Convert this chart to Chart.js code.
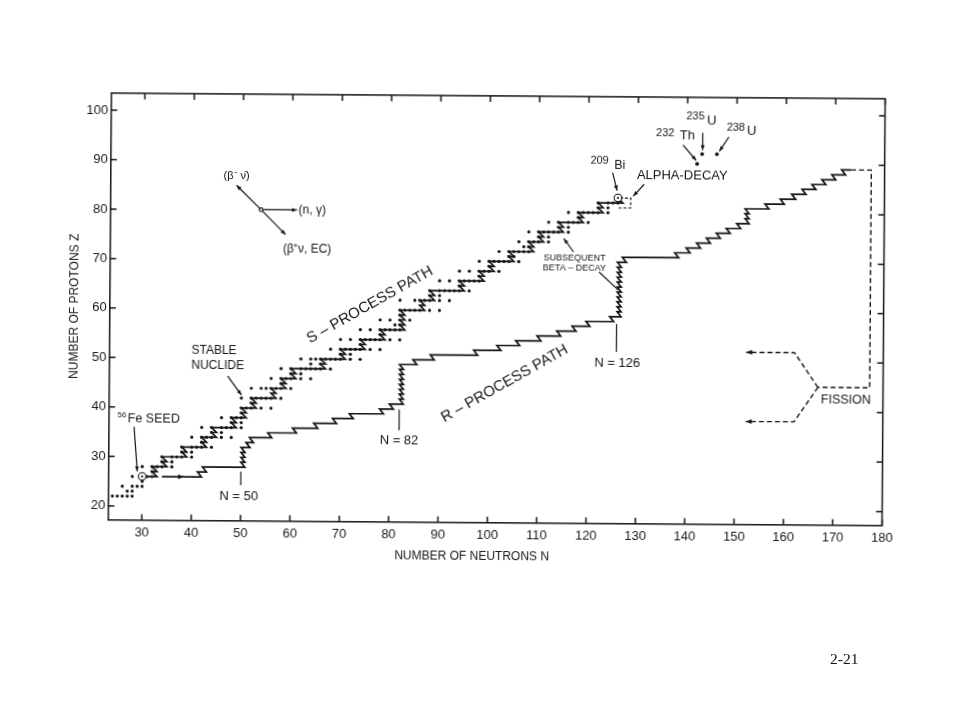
<!DOCTYPE html>
<html>
<head>
<meta charset="utf-8">
<title>s- and r-process paths</title>
<script src="https://cdn.jsdelivr.net/npm/chart.js@4.4.1/dist/chart.umd.min.js"></script>
<style>
html, body { margin: 0; padding: 0; background: #fff; }
/* the scanned figure sits a little crooked on the page */
#wrap { position: absolute; left: 0; top: 0; width: 960px; height: 720px;
        transform: rotate(0.42deg); transform-origin: 496.7px 310px; }
#pageno { position: absolute; left: 830px; top: 651px; font-size: 15.5px; line-height: 15px;
          font-family: "Liberation Serif", "Times New Roman", serif; color: #111; }
</style>
</head>
<body>
<div id="wrap"><canvas id="chart" width="960" height="720"></canvas></div>
<div id="pageno">2-21</div>
<script>
// tick values
var xTicks = [30, 40, 50, 60, 70, 80, 90, 100, 110, 120, 130, 140, 150, 160, 170, 180];
var yTicks = [20, 30, 40, 50, 60, 70, 80, 90, 100];

// stable nuclides: proton number and the neutron numbers of its stable isotopes
var stableZ = [22, 23, 24, 25, 26, 27, 28, 29, 30, 31, 32, 33, 34, 35, 36, 37, 38, 39, 40, 41,
               42, 44, 45, 46, 47, 48, 49, 50, 51, 52, 53, 54, 55, 56, 57, 58, 59, 60, 62, 63,
               64, 65, 66, 67, 68, 69, 70, 71, 72, 73, 74, 75, 76, 77, 78, 79, 80, 81, 82, 83];
var stableN = [
    [24, 25, 26, 27, 28], [27, 28], [26, 28, 29, 30], [30], [28, 30, 31, 32], [32],
    [30, 32, 33, 34, 36], [34, 36], [34, 36, 37, 38, 40], [38, 40], [38, 40, 41, 42, 44], [42],
    [40, 42, 43, 44, 46, 48], [44, 46], [42, 44, 46, 47, 48, 50], [48, 50], [46, 48, 49, 50], [50],
    [50, 51, 52, 54, 56], [52], [50, 52, 53, 54, 55, 56, 58], [52, 54, 55, 56, 57, 58, 60], [58],
    [56, 58, 59, 60, 62, 64], [60, 62], [58, 60, 62, 63, 64, 65, 66, 68], [64, 66],
    [62, 64, 65, 66, 67, 68, 69, 70, 72, 74], [70, 72], [68, 70, 71, 72, 73, 74, 76, 78], [74],
    [70, 72, 74, 75, 76, 77, 78, 80, 82], [78], [74, 76, 78, 79, 80, 81, 82], [81, 82],
    [78, 80, 82, 84], [82], [82, 83, 84, 85, 86, 88, 90], [82, 85, 86, 87, 88, 90, 92], [88, 90],
    [88, 90, 91, 92, 93, 94, 96], [94], [90, 92, 94, 95, 96, 97, 98], [98],
    [94, 96, 98, 99, 100, 102], [100], [98, 100, 101, 102, 103, 104, 106], [104, 105],
    [102, 104, 105, 106, 107, 108], [107, 108], [106, 108, 109, 110, 112], [110, 112],
    [108, 110, 111, 112, 113, 114, 116], [114, 116], [112, 114, 116, 117, 118, 120], [118],
    [116, 118, 119, 120, 121, 122, 124], [122, 124], [122, 124, 125, 126], [126]
];

// s-process path: one row per element, N where the row ends in a beta decay
var sPathZ = [26, 27, 28, 29, 30, 31, 32, 33, 34, 35, 36, 37, 38, 39, 40, 41, 42, 43, 44, 45,
              46, 47, 48, 49, 50, 51, 52, 53, 54, 55, 56, 57, 58, 59, 60, 61, 62, 63, 64, 65,
              66, 67, 68, 69, 70, 71, 72, 73, 74, 75, 76, 77, 78, 79, 80, 81, 82, 83];
var sPathEndN = [33, 33, 35, 35, 39, 39, 43, 43, 45, 45, 49, 49, 51, 51, 53, 53, 57, 57, 59, 59,
                 61, 61, 67, 67, 71, 71, 75, 75, 79, 79, 83, 83, 83, 83, 87, 87, 89, 89, 95, 95,
                 99, 99, 101, 101, 105, 105, 109, 109, 111, 111, 115, 115, 119, 119, 123, 123, 127, 127];
var sPathStartN = 30;

// r-process path: one row per element, N where the row ends
var rPathZ = [26, 27, 28, 29, 30, 31, 32, 33, 34, 35, 36, 37, 38, 39, 40, 41, 42, 43, 44, 45,
              46, 47, 48, 49, 50, 51, 52, 53, 54, 55, 56, 57, 58, 59, 60, 61, 62, 63, 64, 65,
              66, 67, 68, 69, 70, 71, 72, 73, 74, 75, 76, 77, 78, 79, 80, 81, 82, 83, 84, 85,
              86, 87, 88, 89];
var rPathEndN = [42, 43, 50.8, 50.8, 50.8, 50.8, 51.8, 52.5, 56.2, 61.2, 65.5, 69.3, 72.7, 78.8,
                 80.8, 82.8, 82.8, 82.8, 82.8, 82.8, 82.8, 82.8, 82.8, 85.5, 89, 97.8, 102.5,
                 106.3, 110.6, 114.6, 117.7, 120.5, 125.3, 126.8, 126.8, 126.8, 126.8, 126.8,
                 126.8, 126.8, 126.8, 126.8, 126.8, 126.8, 127.8, 138.4, 140.7, 142.8, 144.8,
                 146.8, 148.8, 150.9, 152.6, 152.6, 152.6, 156.6, 159.7, 162, 164.1, 166.1,
                 168.1, 170.1, 172.1, 173.2];
var rPathStartN = 34;

// fission return (dashed)
var fissionMainN = [173.2, 177.3, 177.3, 166.8];
var fissionMainZ = [89, 89, 45, 45];
var fissionUpN = [166.8, 162, 152.2];
var fissionUpZ = [45, 52, 52];
var fissionLowN = [166.8, 162, 152.2];
var fissionLowZ = [45, 38, 38];

// alpha-decay loop at 209Bi (dashed)
var alphaN = [126.4, 128.6, 128.6, 125.8];
var alphaZ = [83, 83, 81, 81];

// circled nuclides (56Fe seed, 209Bi) and the long lived actinides
var circledN = [30, 126];
var circledZ = [26, 83];
var actinideN = [142, 143, 146];
var actinideZ = [90, 92, 92];

var INK = '#151515';
var FONT = '"Liberation Sans", Arial, Helvetica, sans-serif';

function toPoints(ns, zs) {
    return ns.map(function (n, i) { return {x: n, y: zs[i]}; });
}

// staircase: each row runs right, then a beta decay steps up one row and back by `hook`
function stairPath(levelZ, levelEndN, firstN, hook) {
    var pts = [];
    var start = firstN;
    levelZ.forEach(function (z, i) {
        pts.push({x: start, y: z});
        pts.push({x: levelEndN[i], y: z});
        start = levelEndN[i] - hook;
    });
    return pts;
}

var stablePoints = [];
stableZ.forEach(function (z, i) {
    stableN[i].forEach(function (n) { stablePoints.push({x: n, y: z}); });
});

// annotations: text, N, Z, font px, align, angle
var notes = [
    ['(β⁻ ν̄)', 48.7, 86.9, 11, 'center', 0],
    ['(n, γ)', 61.3, 80.1, 12, 'left', 0],
    ['(β⁺ν, EC)', 63.1, 72.1, 12, 'center', 0],
    ['56', 24.9, 38.4, 8, 'left', 0],
    ['Fe SEED', 27.0, 37.7, 12.5, 'left', 0],
    ['STABLE', 39.8, 51.6, 12, 'left', 0],
    ['NUCLIDE', 39.8, 48.6, 12, 'left', 0],
    ['S – PROCESS PATH', 75.9, 61.0, 15, 'center', -29.8],
    ['R – PROCESS PATH', 103.3, 45.3, 15, 'center', -29.8],
    ['N = 50', 49.6, 22.0, 13, 'center', 0],
    ['N = 82', 82.0, 33.7, 13, 'center', 0],
    ['N = 126', 126.1, 49.5, 13, 'center', 0],
    ['SUBSEQUENT', 117.3, 70.7, 9, 'center', 0],
    ['BETA – DECAY', 117.3, 68.7, 9, 'center', 0],
    ['209', 124.1, 90.5, 11, 'right', 0],
    ['Bi', 125.2, 89.6, 12.5, 'left', 0],
    ['ALPHA-DECAY', 139.0, 87.5, 13, 'center', 0],
    ['232', 135.5, 96.2, 11, 'center', 0],
    ['Th', 140.0, 95.6, 13, 'center', 0],
    ['235', 141.6, 99.6, 11, 'center', 0],
    ['U', 144.9, 98.7, 13, 'center', 0],
    ['238', 149.8, 97.4, 11, 'center', 0],
    ['U', 153.0, 96.6, 13, 'center', 0],
    ['FISSION', 172.5, 42.4, 12.5, 'center', 0]
];

// pointer lines: from N, Z to N, Z, arrow head at the end
var pointers = [
    [53.7, 80.1, 61.0, 80.1, true],
    [53.7, 80.1, 48.7, 85.0, true],
    [53.7, 80.1, 58.7, 75.1, true],
    [28.3, 36.0, 29.0, 27.0, true],
    [47.2, 46.4, 50.0, 42.6, true],
    [117.1, 72.0, 115.1, 74.7, true],
    [122.3, 68.0, 126.2, 64.4, false],
    [124.9, 88.1, 125.8, 84.5, true],
    [131.3, 85.8, 129.1, 83.4, true],
    [139.1, 93.8, 141.8, 90.7, true],
    [143.1, 96.3, 143.1, 92.8, true],
    [148.4, 95.5, 146.5, 92.6, true],
    [50, 27.1, 50, 24.4, false],
    [82, 39.9, 82, 35.7, false],
    [125.9, 57.5, 125.9, 51.9, false]
];

// arrow heads sitting on a path: tip N, Z, coming from N, Z
var midArrows = [
    [38.5, 26, 34, 26],
    [152.2, 52, 156, 52],
    [152.2, 38, 156, 38]
];

function arrowHead(ctx, x0, y0, x1, y1, len, half) {
    var a = Math.atan2(y1 - y0, x1 - x0);
    var c = Math.cos(a), s = Math.sin(a);
    ctx.beginPath();
    ctx.moveTo(x1, y1);
    ctx.lineTo(x1 - len * c + half * s, y1 - len * s - half * c);
    ctx.lineTo(x1 - len * c - half * s, y1 - len * s + half * c);
    ctx.closePath();
    ctx.fill();
}

var annotate = {
    id: 'annotate',
    afterDraw: function (chart) {
        var ctx = chart.ctx;
        var a = chart.chartArea;
        var X = function (v) { return chart.scales.x.getPixelForValue(v); };
        var Y = function (v) { return chart.scales.y.getPixelForValue(v); };
        ctx.save();
        ctx.strokeStyle = INK;
        ctx.fillStyle = INK;

        // frame with inward ticks on all four sides
        ctx.lineWidth = 1.5;
        ctx.strokeRect(a.left, a.top, a.right - a.left, a.bottom - a.top);
        ctx.beginPath();
        xTicks.forEach(function (v) {
            var p = X(v);
            ctx.moveTo(p, a.bottom); ctx.lineTo(p, a.bottom - 6);
            ctx.moveTo(p, a.top); ctx.lineTo(p, a.top + 6);
        });
        yTicks.forEach(function (v) {
            var p = Y(v);
            ctx.moveTo(a.left, p); ctx.lineTo(a.left + 6, p);
            ctx.moveTo(a.right, p); ctx.lineTo(a.right - 6, p);
        });
        ctx.stroke();

        // x axis title (sits left of centre in the original)
        ctx.font = '12px ' + FONT;
        ctx.textAlign = 'center';
        ctx.textBaseline = 'middle';
        ctx.fillText('NUMBER OF NEUTRONS N', X(96.9), a.bottom + 33.4);

        // pointer lines and arrows
        ctx.lineWidth = 1.2;
        pointers.forEach(function (p) {
            var x0 = X(p[0]), y0 = Y(p[1]), x1 = X(p[2]), y1 = Y(p[3]);
            ctx.beginPath();
            ctx.moveTo(x0, y0);
            ctx.lineTo(x1, y1);
            ctx.stroke();
            if (p[4]) arrowHead(ctx, x0, y0, x1, y1, 5, 2);
        });
        midArrows.forEach(function (m) {
            arrowHead(ctx, X(m[2]), Y(m[3]), X(m[0]), Y(m[1]), 6, 2.4);
        });
        // small origin circle of the reaction vectors
        ctx.beginPath();
        ctx.arc(X(53.7), Y(80.1), 1.8, 0, Math.PI * 2);
        ctx.fillStyle = '#fff';
        ctx.fill();
        ctx.stroke();
        ctx.fillStyle = INK;

        // texts
        notes.forEach(function (t) {
            ctx.save();
            ctx.translate(X(t[1]), Y(t[2]));
            if (t[5]) ctx.rotate(t[5] * Math.PI / 180);
            ctx.font = t[3] + 'px ' + FONT;
            ctx.textAlign = t[4];
            ctx.textBaseline = 'middle';
            ctx.fillText(t[0], 0, 0);
            ctx.restore();
        });
        ctx.restore();
    }
};

new Chart(document.getElementById('chart'), {
    type: 'scatter',
    data: {
        datasets: [
            { data: toPoints(circledN, circledZ), pointRadius: 1.1, backgroundColor: INK, borderWidth: 0 },
            { data: toPoints(circledN, circledZ), pointRadius: 3.8, backgroundColor: '#fff', borderColor: INK, borderWidth: 1.1 },
            { data: toPoints(actinideN, actinideZ), pointRadius: 1.9, backgroundColor: INK, borderWidth: 0 },
            { data: toPoints(alphaN, alphaZ), showLine: true, pointRadius: 0, borderColor: INK, borderWidth: 1.1, borderDash: [3, 2] },
            { data: toPoints(fissionMainN, fissionMainZ), showLine: true, pointRadius: 0, borderColor: INK, borderWidth: 1.4, borderDash: [5, 3] },
            { data: toPoints(fissionUpN, fissionUpZ), showLine: true, pointRadius: 0, borderColor: INK, borderWidth: 1.4, borderDash: [5, 3] },
            { data: toPoints(fissionLowN, fissionLowZ), showLine: true, pointRadius: 0, borderColor: INK, borderWidth: 1.4, borderDash: [5, 3] },
            { data: stairPath(rPathZ, rPathEndN, rPathStartN, 0.8), showLine: true, pointRadius: 0, borderColor: INK, borderWidth: 1.7 },
            { data: stairPath(sPathZ, sPathEndN, sPathStartN, 1), showLine: true, pointRadius: 0, borderColor: INK, borderWidth: 1.7 },
            { data: stablePoints, pointRadius: 1.6, backgroundColor: INK, borderWidth: 0 }
        ]
    },
    options: {
        responsive: false,
        animation: false,
        devicePixelRatio: 1,
        events: [],
        layout: { padding: { left: 0, right: 76.4, top: 95.9, bottom: 0 } },
        plugins: { legend: { display: false }, tooltip: { enabled: false } },
        scales: {
            x: {
                type: 'linear',
                min: 23.2,
                max: 180,
                afterBuildTicks: function (s) { s.ticks = xTicks.map(function (v) { return {value: v}; }); },
                afterFit: function (s) { s.height = 197.2; },
                grid: { display: false, drawTicks: false },
                border: { display: false },
                ticks: { autoSkip: false, maxRotation: 0, padding: 5, color: '#1a1a1a', font: { size: 13, family: FONT } }
            },
            y: {
                type: 'linear',
                min: 17.15,
                max: 103.46,
                afterBuildTicks: function (s) { s.ticks = yTicks.map(function (v) { return {value: v}; }); },
                afterFit: function (s) { s.width = 109.8; },
                grid: { display: false, drawTicks: false },
                border: { display: false },
                ticks: { autoSkip: false, padding: 3, color: '#1a1a1a', font: { size: 13, family: FONT } },
                title: { display: true, text: 'NUMBER OF PROTONS Z', color: INK, font: { size: 12, family: FONT }, padding: { top: 67.8, bottom: 0 } }
            }
        }
    },
    plugins: [annotate]
});
</script>
</body>
</html>
